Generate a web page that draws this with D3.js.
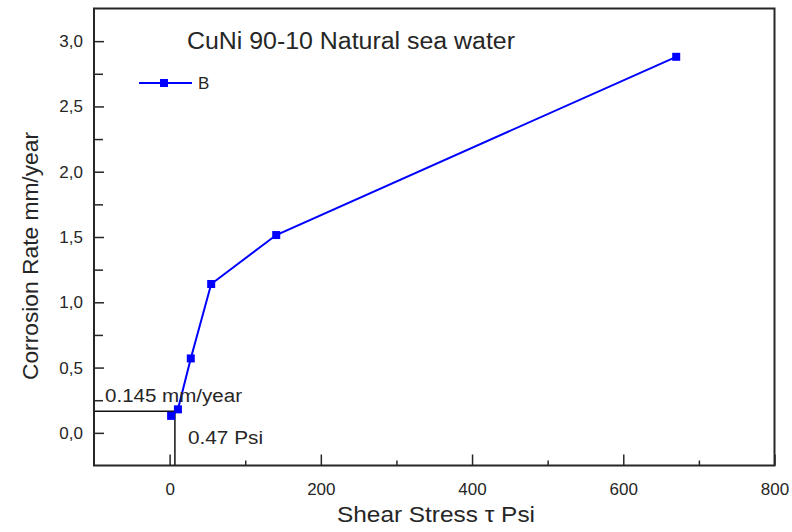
<!DOCTYPE html>
<html><head><meta charset="utf-8">
<script src="https://cdn.jsdelivr.net/npm/d3@7"></script>
<style>body{margin:0;background:#fff;} svg{display:block;font-family:"Liberation Sans",Arial,sans-serif;}</style>
</head><body>
<svg id="c" width="792" height="532"></svg>
<script>
// data
const shearStress = [2, 11, 28, 55, 141, 670];
const corrosionRate = [0.13, 0.18, 0.57, 1.14, 1.515, 2.88];
const seriesName = "B";
const xTicks = [0, 200, 400, 600, 800];
const xMinorTicks = [100, 300, 500, 700];
const yTicks = [0, 0.5, 1.0, 1.5, 2.0, 2.5, 3.0];
const yTickLabels = ["0,0", "0,5", "1,0", "1,5", "2,0", "2,5", "3,0"];
const yMinorTicks = [0.25, 0.75, 1.25, 1.75, 2.25, 2.75];
const annoX = 7, annoY = 0.165;
const annoRateLabel = "0.145 mm/year";
const annoStressLabel = "0.47 Psi";
const title = "CuNi 90-10 Natural sea water";
const xLabel = "Shear Stress \u03C4 Psi";
const yLabel = "Corrosion Rate mm/year";

const svg = d3.select("#c");
const L = 94, R = 774.5, T = 8.5, B = 465.5;
const x = d3.scaleLinear().domain([-100, 800]).range([L, R]);
const y = d3.scaleLinear().domain([-0.25, 3.25]).range([B, T]);
const ink = "#262626";

// annotation lines
svg.append("line").attr("x1", x(-100)).attr("x2", x(annoX)).attr("y1", y(annoY)).attr("y2", y(annoY))
  .attr("stroke", "#111").attr("stroke-width", 1.5);
svg.append("line").attr("x1", x(annoX)).attr("x2", x(annoX)).attr("y1", y(annoY)).attr("y2", y(-0.25))
  .attr("stroke", "#111").attr("stroke-width", 1.5);

// axes (ticks inward)
const xAxis = d3.axisBottom(x).tickValues(xTicks).tickSize(-11).tickPadding(17).tickFormat(d3.format("d"));
const gx = svg.append("g").attr("transform", `translate(0,${B})`).call(xAxis);
const xMinor = d3.axisBottom(x).tickValues(xMinorTicks).tickSize(-5).tickFormat("");
const gxm = svg.append("g").attr("transform", `translate(0,${B})`).call(xMinor);
const yAxis = d3.axisLeft(y).tickValues(yTicks).tickSize(-10).tickPadding(11)
  .tickFormat((d, i) => yTickLabels[i]);
const gy = svg.append("g").attr("transform", `translate(${L},0)`).call(yAxis);
const yMinor = d3.axisLeft(y).tickValues(yMinorTicks).tickSize(-9).tickFormat("");
const gym = svg.append("g").attr("transform", `translate(${L},0)`).call(yMinor);
[gx, gxm, gy, gym].forEach(g => {
  g.select(".domain").remove();
  g.selectAll(".tick line").attr("stroke", ink).attr("stroke-width", 1.5);
  g.selectAll("text").attr("fill", ink).style("font-size", "17px").style("font-family", "Liberation Sans, Arial, sans-serif");
});

// frame
svg.append("rect").attr("x", L).attr("y", T).attr("width", R - L).attr("height", B - T)
  .attr("fill", "none").attr("stroke", ink).attr("stroke-width", 2);

// series
const pts = shearStress.map((v, i) => [v, corrosionRate[i]]);
svg.append("path").datum(pts)
  .attr("d", d3.line().x(d => x(d[0])).y(d => y(d[1])))
  .attr("fill", "none").attr("stroke", "#0000ff").attr("stroke-width", 2);
svg.selectAll("rect.mk").data(pts).enter().append("rect").attr("class", "mk")
  .attr("x", d => x(d[0]) - 4).attr("y", d => y(d[1]) - 4).attr("width", 8).attr("height", 8)
  .attr("fill", "#0000ff");

// legend
svg.append("line").attr("x1", 139).attr("x2", 192).attr("y1", 83).attr("y2", 83)
  .attr("stroke", "#0000ff").attr("stroke-width", 2);
svg.append("rect").attr("x", 160).attr("y", 79).attr("width", 8).attr("height", 8).attr("fill", "#0000ff");
svg.append("text").attr("x", 198).attr("y", 89).text(seriesName).attr("fill", ink).style("font-size", "17px");

// title
svg.append("text").attr("x", 187).attr("y", 49).text(title).attr("fill", ink).style("font-size", "23px")
  .attr("textLength", 328).attr("lengthAdjust", "spacingAndGlyphs");

// annotation text
svg.append("text").attr("x", 105).attr("y", 402).text(annoRateLabel).attr("fill", ink).style("font-size", "18px")
  .attr("textLength", 137).attr("lengthAdjust", "spacingAndGlyphs");
svg.append("text").attr("x", 188).attr("y", 444).text(annoStressLabel).attr("fill", ink).style("font-size", "18px")
  .attr("textLength", 75).attr("lengthAdjust", "spacingAndGlyphs");

// axis labels
svg.append("text").attr("x", 337).attr("y", 522).text(xLabel)
  .attr("fill", ink).style("font-size", "22px").attr("textLength", 198).attr("lengthAdjust", "spacingAndGlyphs");
svg.append("text").attr("transform", "translate(38,380) rotate(-90)").text(yLabel)
  .attr("fill", ink).style("font-size", "22px").attr("textLength", 248).attr("lengthAdjust", "spacingAndGlyphs");
</script>
</body></html>
